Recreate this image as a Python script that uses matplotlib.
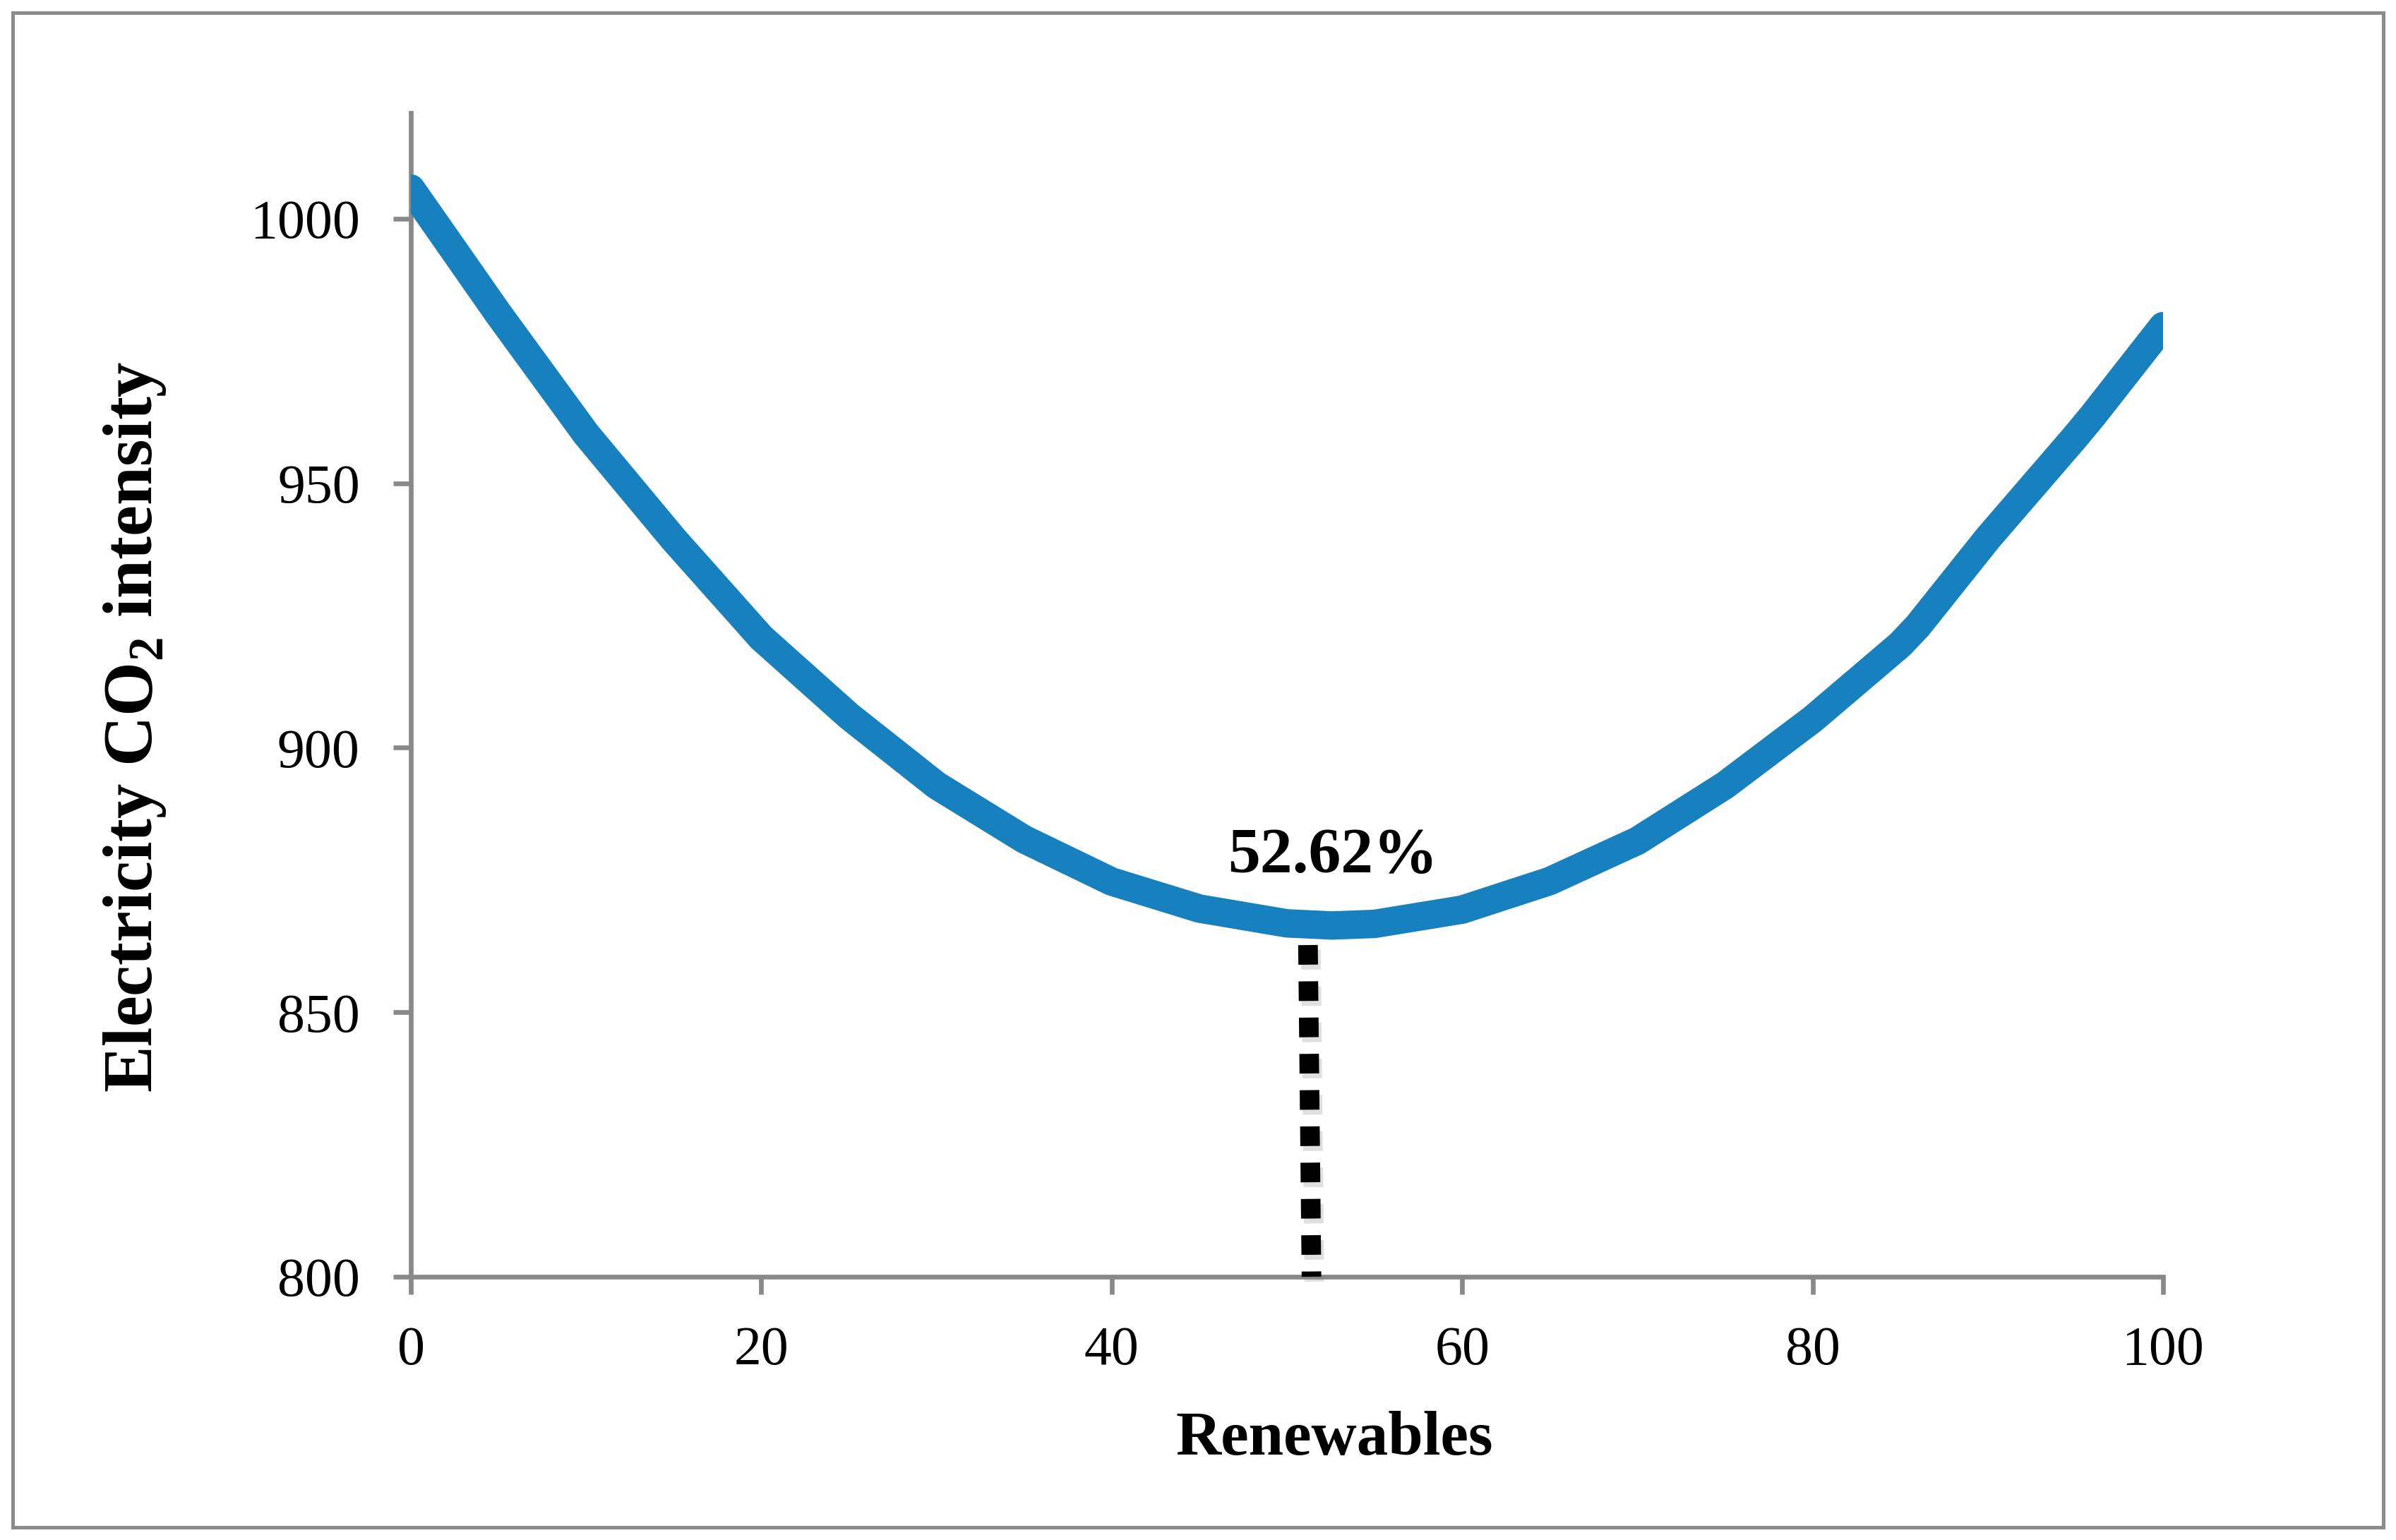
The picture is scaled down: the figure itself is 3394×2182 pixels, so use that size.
import matplotlib
matplotlib.use("Agg")
import matplotlib.pyplot as plt
import matplotlib.patheffects as pe
from matplotlib.patches import Rectangle

# ---- data ----
renewables = [0, 5, 10, 15, 20, 25, 30, 35, 40, 45, 50, 52.6, 55, 60, 65, 70, 75, 80, 85, 86, 90, 95, 96, 100]
intensity = [1005.7, 982.0, 959.3, 939.4, 920.8, 906.0, 892.9, 882.7, 874.7, 869.6, 866.8, 866.4,
             866.7, 869.4, 874.8, 882.4, 892.9, 905.4, 919.5, 923.0, 939.6, 958.8, 962.8, 979.7]
opt_x = [51.2, 51.4]
opt_y = [862.7, 800]
opt_label = "52.62%"
opt_label_pos = (52.6, 876.4)
x_ticks = [0, 20, 40, 60, 80, 100]
y_ticks = [800, 850, 900, 950, 1000]

plt.rcParams['font.family'] = ['Liberation Serif', 'DejaVu Serif']
plt.rcParams['mathtext.fontset'] = 'custom'
plt.rcParams['mathtext.rm'] = 'Liberation Serif'
plt.rcParams['mathtext.bf'] = 'Liberation Serif:bold'

W, H, DPI = 3394, 2182, 200
fig = plt.figure(figsize=(W / DPI, H / DPI), dpi=DPI)
fig.patch.set_facecolor('white')

ax = fig.add_axes([582 / W, 1 - 1809 / H, (3064 - 582) / W, (1809 - 160) / H])

grey = '#898989'
blue = '#1780bf'

ax.plot(renewables, intensity, color=blue, lw=14.5, solid_capstyle='round',
        solid_joinstyle='round', zorder=3)

ax.plot(opt_x, opt_y, color='black', lw=10, linestyle=(0, (1.0, 0.85)),
        dash_capstyle='butt', clip_on=False, zorder=4,
        path_effects=[pe.SimpleLineShadow(offset=(1.5, -2.5), shadow_color='gray', alpha=0.25),
                      pe.Normal()])

ax.text(opt_label_pos[0], opt_label_pos[1], opt_label, ha='center', va='baseline',
        fontsize=33, fontweight='bold', color='black', zorder=5)

ax.set_xlim(0, 100)
ax.set_ylim(800, 1020)
ax.set_xticks(x_ticks)
ax.set_yticks(y_ticks)
ax.set_xticklabels([str(t) for t in x_ticks])
ax.set_yticklabels([str(t) for t in y_ticks])

for s in ['top', 'right']:
    ax.spines[s].set_visible(False)
for s in ['left', 'bottom']:
    ax.spines[s].set_color(grey)
    ax.spines[s].set_linewidth(2.4)

ax.tick_params(axis='both', direction='out', length=9, width=2.4, color=grey,
               labelsize=28, labelcolor='black')
ax.tick_params(axis='y', pad=17)
ax.tick_params(axis='x', pad=16)

fig.text(1890 / W, 1 - 2040 / H, 'Renewables', ha='center', va='center',
         fontsize=32, fontweight='bold')
fig.text(191 / W, 1 - 1030 / H, r'Electricity CO$_{\mathbf{2}}$ intensity',
         ha='center', va='center', rotation=90, fontsize=35.5, fontweight='bold')

fig.patches.append(Rectangle((18 / W, 1 - 2164 / H), (3376 - 18) / W, (2164 - 18) / H,
                             transform=fig.transFigure, fill=False,
                             edgecolor='#8c8c8c', linewidth=1.8))

fig.savefig('out.png', dpi=DPI, facecolor='white')
